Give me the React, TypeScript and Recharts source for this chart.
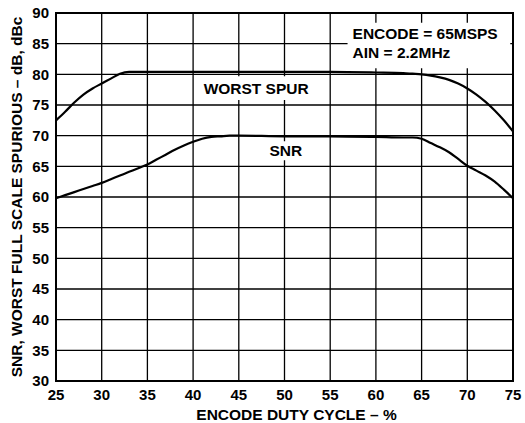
import React from 'react';
import { LineChart, Line, XAxis, YAxis, CartesianGrid, ReferenceArea, Label } from 'recharts';

const dutyCycle = [25, 26, 27, 28, 29, 30, 31, 32, 33, 34, 35, 36, 37, 38, 39, 40, 41, 42, 43, 44, 45, 50, 55, 60, 63, 64, 65, 66, 67, 68, 69, 70, 71, 72, 73, 74, 75];
const worstSpur = [72.5, 73.9, 75.4, 76.7, 77.7, 78.5, 79.3, 80.1, 80.4, 80.4, 80.4, 80.4, 80.4, 80.4, 80.4, 80.4, 80.4, 80.4, 80.4, 80.4, 80.4, 80.4, 80.4, 80.3, 80.2, 80.1, 80.0, 79.8, 79.5, 79.1, 78.5, 77.7, 76.7, 75.5, 74.1, 72.5, 70.7];
const snr = [59.8, 60.3, 60.8, 61.3, 61.8, 62.3, 62.9, 63.5, 64.1, 64.7, 65.3, 66.1, 66.9, 67.7, 68.4, 69.0, 69.5, 69.8, 69.9, 70.0, 70.0, 69.9, 69.9, 69.8, 69.7, 69.7, 69.5, 68.8, 68.1, 67.3, 66.2, 65.1, 64.3, 63.5, 62.5, 61.2, 59.8];
const xTicks = [25, 30, 35, 40, 45, 50, 55, 60, 65, 70, 75];
const yTicks = [30, 35, 40, 45, 50, 55, 60, 65, 70, 75, 80, 85, 90];

const seriesLabels = ['WORST SPUR', 'SNR'];
const conditionLines = ['ENCODE = 65MSPS', 'AIN = 2.2MHz'];
const xTitle = 'ENCODE DUTY CYCLE – %';
const yTitle = 'SNR, WORST FULL SCALE SPURIOUS – dB, dBc';

const data = dutyCycle.map((x, i) => ({ x, spur: worstSpur[i], snr: snr[i] }));

const FONT = '"Liberation Sans", Arial, Helvetica, sans-serif';
const tickStyle = { fill: '#000', fontSize: 15, fontWeight: 700, fontFamily: FONT };
const textStyle = { fill: '#000', fontSize: 15.5, fontWeight: 700, fontFamily: FONT };

const YTitle = (props: any) => {
  const vb = props.viewBox || {};
  const cx = 16;
  const cy = (vb.y ?? 13) + (vb.height ?? 368) / 2;
  return (
    <text
      x={cx}
      y={cy}
      transform={`rotate(-90, ${cx}, ${cy})`}
      textAnchor="middle"
      dominantBaseline="central"
      style={textStyle as any}
      fill="#000"
    >
      {yTitle}
    </text>
  );
};

const ConditionsLabel = (props: any) => {
  const vb = props.viewBox || {};
  const x = (vb.x ?? 0) + 5;
  const y = vb.y ?? 0;
  return (
    <g>
      <text x={x} y={y + 11} dominantBaseline="central" style={textStyle as any} fill="#000">
        {conditionLines[0]}
      </text>
      <text x={x} y={y + 30} dominantBaseline="central" style={textStyle as any} fill="#000">
        {conditionLines[1]}
      </text>
    </g>
  );
};

export default function App() {
  return (
    <div style={{ position: 'absolute', left: 0, top: 0, background: '#fff' }}>
      <LineChart width={525} height={423} data={data} margin={{ top: 13, right: 12, bottom: 0, left: 0 }}>
        <CartesianGrid stroke="#000" strokeWidth={1.3} horizontalValues={yTicks} verticalValues={xTicks} />
        <XAxis
          dataKey="x"
          type="number"
          domain={[25, 75]}
          ticks={xTicks}
          interval={0}
          axisLine={false}
          tickLine={false}
          height={42}
          tick={tickStyle}
        >
          <Label value={xTitle} position="insideBottom" offset={3} dx={12} style={textStyle as any} fill="#000" />
        </XAxis>
        <YAxis
          type="number"
          domain={[30, 90]}
          ticks={yTicks}
          interval={0}
          axisLine={false}
          tickLine={false}
          width={56}
          tickMargin={1}
          tick={tickStyle}
        >
          <Label content={<YTitle />} />
        </YAxis>
        <ReferenceArea x1={40.8} x2={53} y1={75.8} y2={79.7} fill="#fff" fillOpacity={1} stroke="none"
          label={{ value: seriesLabels[0], position: 'center', style: textStyle, fill: '#000' } as any} />
        <ReferenceArea x1={47.9} x2={52.4} y1={66} y2={69.1} fill="#fff" fillOpacity={1} stroke="none"
          label={{ value: seriesLabels[1], position: 'center', style: textStyle, fill: '#000' } as any} />
        <ReferenceArea x1={56.9} x2={74.7} y1={81} y2={88.4} fill="#fff" fillOpacity={1} stroke="none"
          label={<ConditionsLabel />} />
        <ReferenceArea x1={25} x2={75} y1={30} y2={90} fill="none" stroke="#000" strokeWidth={2} />
        <Line type="monotone" dataKey="spur" stroke="#000" strokeWidth={2.2} dot={false} isAnimationActive={false} />
        <Line type="monotone" dataKey="snr" stroke="#000" strokeWidth={2.2} dot={false} isAnimationActive={false} />
      </LineChart>
    </div>
  );
}
